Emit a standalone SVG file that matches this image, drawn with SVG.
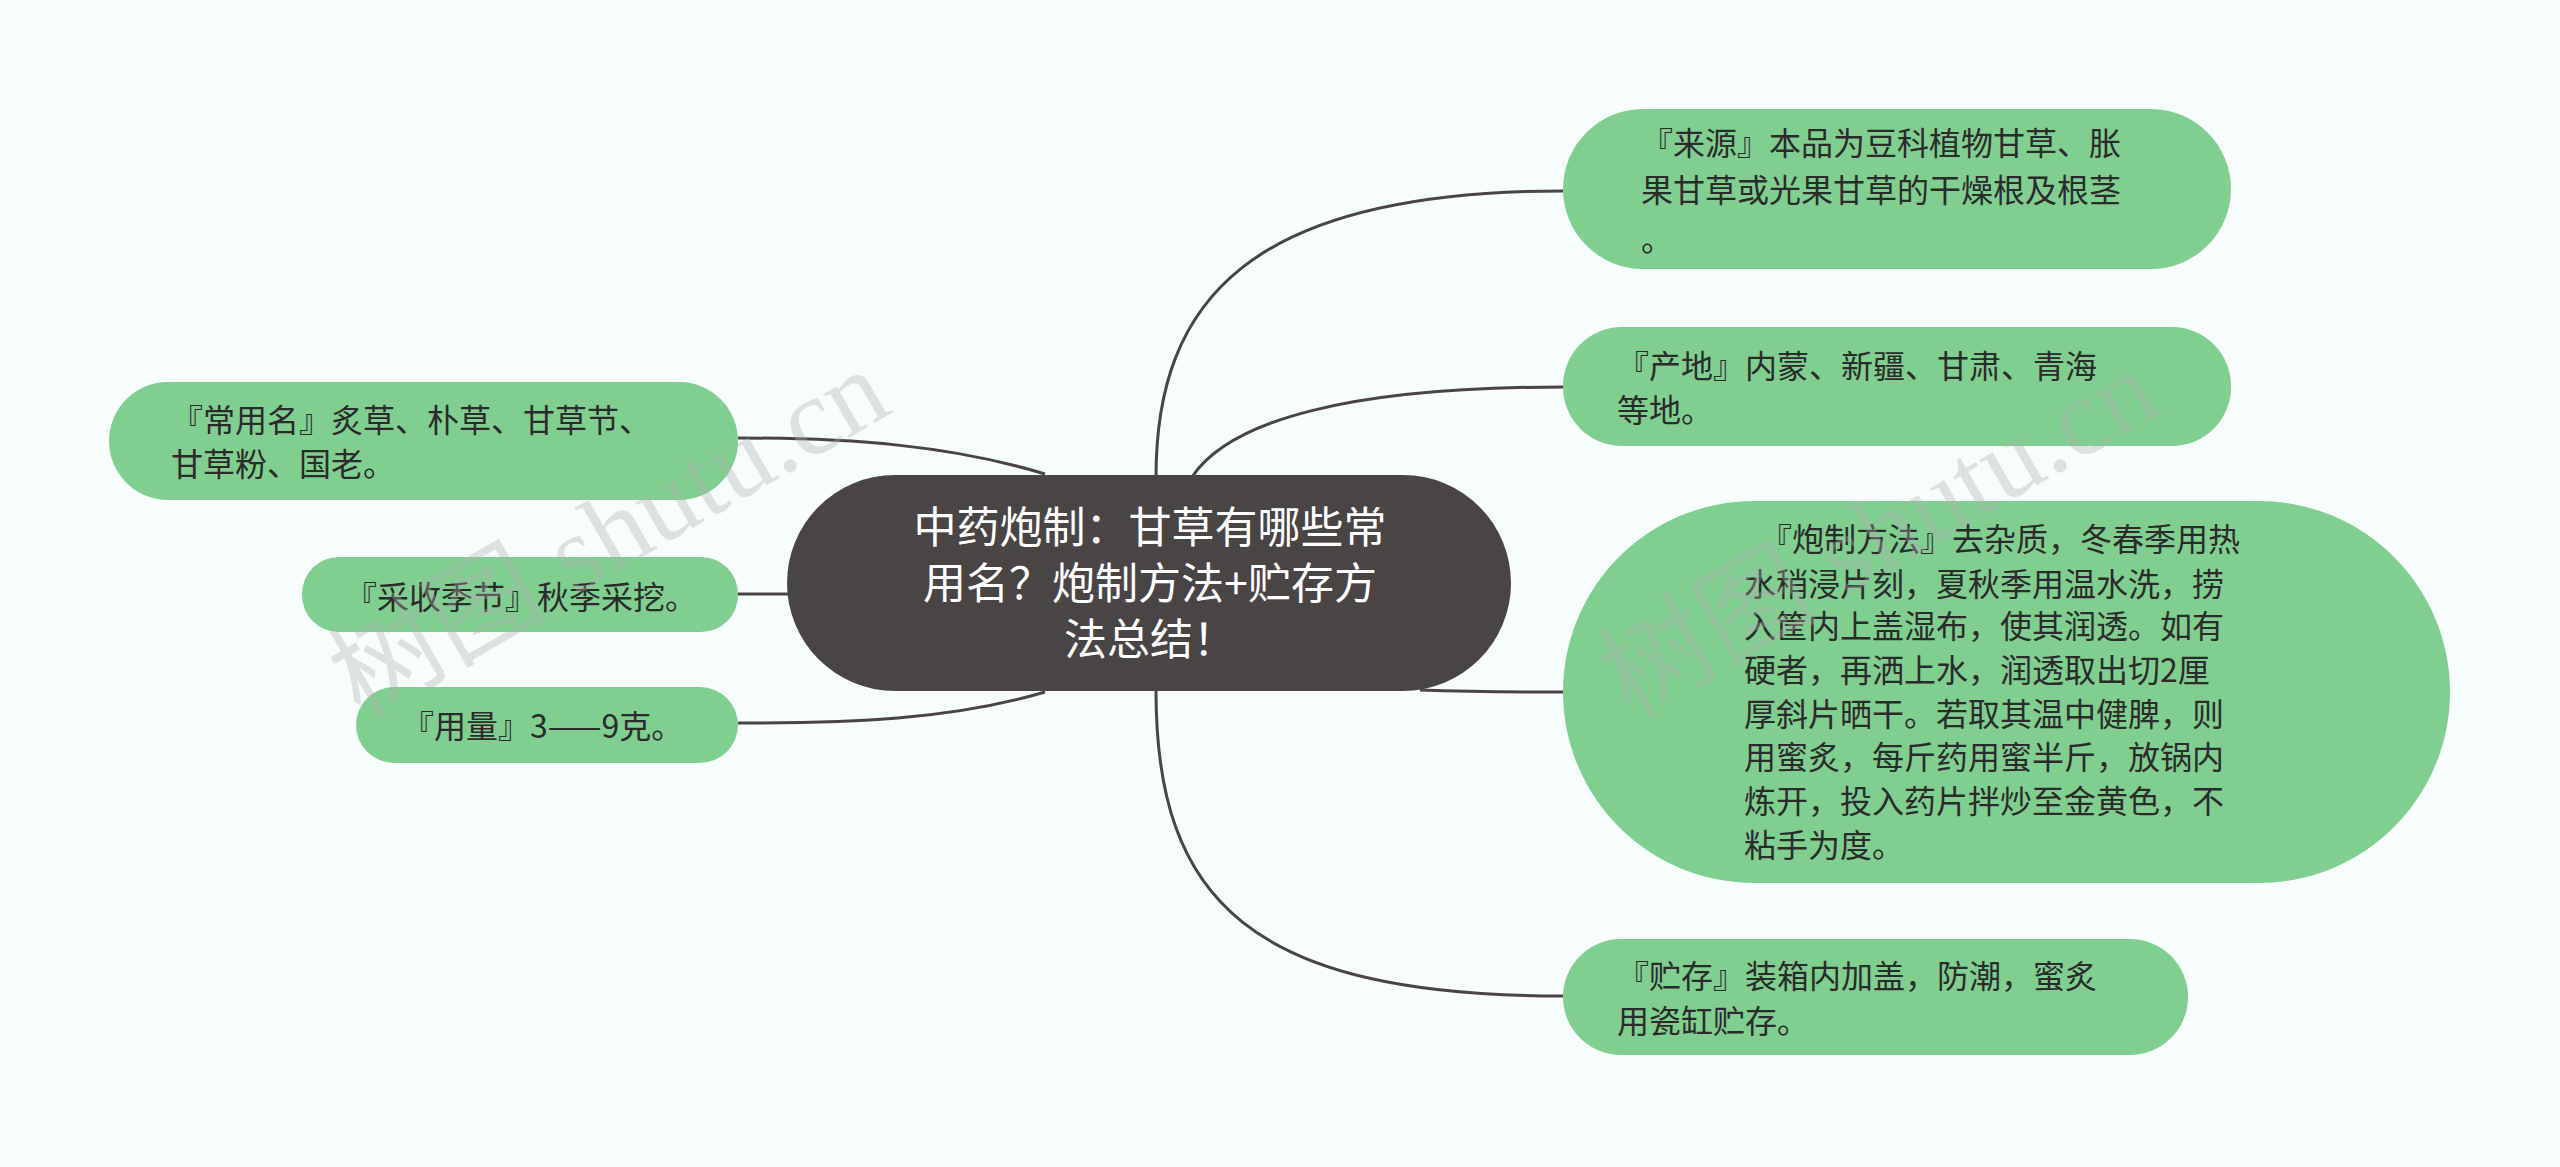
<svg xmlns="http://www.w3.org/2000/svg" width="2560" height="1167" viewBox="0 0 2560 1167">
<style>
.n{fill:#80cf90}
.t{font-family:"Noto Sans CJK SC","Noto Sans",sans-serif;font-size:32px;fill:#2b2b2b}
.c{font-family:"Noto Sans CJK SC","Noto Sans",sans-serif;font-size:43px;fill:#ffffff;text-anchor:middle}
.w{font-family:"Liberation Serif","Noto Sans CJK SC",serif;font-size:110px;fill:#b0b0b0;opacity:0.35}
#edges path{fill:none;stroke:#4a4545;stroke-width:3}
</style>
<rect width="2560" height="1167" fill="#f7fcfc"/>
<g id="edges">
<path d="M1156,477 C1156,300 1250,191 1563,191"/>
<path d="M1192,477 C1230,420 1350,387 1563,387"/>
<path d="M1420,690 C1480,692 1520,692 1563,692"/>
<path d="M1156,691 C1156,900 1250,996 1563,996"/>
<path d="M1045,474 C950,445 850,438 738,438"/>
<path d="M789,594 L738,594"/>
<path d="M1045,692 C950,720 850,723 738,723"/>
</g>
<g id="center">
<rect x="787" y="475" width="724" height="216" rx="108" fill="#4a4545"/>
<text class="c" x="1150" y="543">中药炮制：甘草有哪些常</text>
<text class="c" x="1150" y="599">用名？炮制方法+贮存方</text>
<text class="c" x="1150" y="655">法总结！</text>
</g>
<g id="r1"><rect class="n" x="1563" y="109" width="668" height="160" rx="80"/>
<text class="t" x="1641" y="155">『来源』本品为豆科植物甘草、胀</text>
<text class="t" x="1641" y="202">果甘草或光果甘草的干燥根及根茎</text>
<text class="t" x="1641" y="251">。</text></g>
<g id="r2"><rect class="n" x="1563" y="327" width="668" height="119" rx="59"/>
<text class="t" x="1617" y="378">『产地』内蒙、新疆、甘肃、青海</text>
<text class="t" x="1617" y="422">等地。</text></g>
<g id="r3"><rect class="n" x="1563" y="501" width="887" height="382" rx="191"/>
<text class="t" x="1760" y="551">『炮制方法』去杂质，冬春季用热</text>
<text class="t" x="1744" y="596">水稍浸片刻，夏秋季用温水洗，捞</text>
<text class="t" x="1744" y="638">入筐内上盖湿布，使其润透。如有</text>
<text class="t" x="1744" y="682">硬者，再洒上水，润透取出切2厘</text>
<text class="t" x="1744" y="726">厚斜片晒干。若取其温中健脾，则</text>
<text class="t" x="1744" y="769">用蜜炙，每斤药用蜜半斤，放锅内</text>
<text class="t" x="1744" y="813">炼开，投入药片拌炒至金黄色，不</text>
<text class="t" x="1744" y="857">粘手为度。</text></g>
<g id="r4"><rect class="n" x="1563" y="939" width="625" height="116" rx="58"/>
<text class="t" x="1617" y="988">『贮存』装箱内加盖，防潮，蜜炙</text>
<text class="t" x="1617" y="1033">用瓷缸贮存。</text></g>
<g id="l1"><rect class="n" x="109" y="382" width="629" height="118" rx="59"/>
<text class="t" x="171" y="432">『常用名』炙草、朴草、甘草节、</text>
<text class="t" x="171" y="476">甘草粉、国老。</text></g>
<g id="l2"><rect class="n" x="302" y="557" width="436" height="75" rx="37"/>
<text class="t" x="345" y="609">『采收季节』秋季采挖。</text></g>
<g id="l3"><rect class="n" x="356" y="687" width="382" height="76" rx="38"/>
<text class="t" x="402" y="738">『用量』3——9克。</text></g>
<text class="w" transform="translate(360,720) rotate(-30)">树图 shutu.cn</text>
<text class="w" transform="translate(1630,720) rotate(-30)">树图 shutu.cn</text>
</svg>
